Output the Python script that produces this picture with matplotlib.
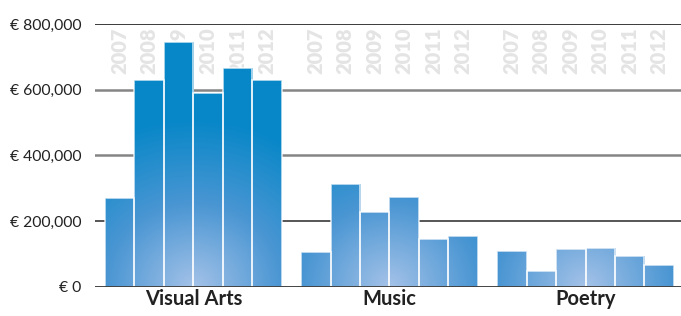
import numpy as np
import matplotlib.pyplot as plt
from matplotlib.colors import LinearSegmentedColormap

# data
categories = ["Visual Arts", "Music", "Poetry"]
years = ["2007", "2008", "2009", "2010", "2011", "2012"]
visual_arts = [270000, 630000, 745000, 590000, 666000, 630000]
music = [106000, 313000, 228000, 274000, 146000, 155000]
poetry = [110000, 49000, 116000, 119000, 94000, 67000]
y_ticks = [0, 200000, 400000, 600000, 800000]

series = [visual_arts, music, poetry]

plt.rcParams['font.family'] = ['Lato', 'DejaVu Sans']

fig = plt.figure(figsize=(6.81, 3.16), dpi=100)
ax = fig.add_axes([95 / 681, 1 - 287 / 316, 586 / 681, 263 / 316])

group_step = 6.655
xmin, xmax = -0.84, 19.05
ymax = 800000
ax.set_xlim(xmin, xmax)
ax.set_ylim(0, ymax)

px_x = 586 / (xmax - xmin)   # pixels per x unit
px_y = 263 / ymax            # pixels per value

# blue gradient, light at the bottom centre of each group
cmap = LinearSegmentedColormap.from_list("blues", ["#a4c2e8", "#4a96d3", "#0887c8"])

nx_, ny_ = 400, 200
gx = np.linspace(xmin, xmax, nx_)
gy = np.linspace(0, ymax, ny_)
XX, YY = np.meshgrid(gx, gy)

for g, vals in enumerate(series):
    x0 = g * group_step
    cx = x0 + 2.5
    d = np.sqrt(((XX - cx) * px_x) ** 2 + (YY * px_y * 1.05) ** 2)
    t = np.clip(d / 175, 0, 1)
    for i, v in enumerate(vals):
        bar = ax.bar(x0 + i, v, width=1.0, color="none", edgecolor="none", zorder=3)[0]
        im = ax.imshow(t, extent=[xmin, xmax, 0, ymax], origin="lower", cmap=cmap,
                       vmin=0, vmax=1, aspect="auto", zorder=3, interpolation="bilinear")
        im.set_clip_path(bar)
        ax.bar(x0 + i, v, width=1.0, fill=False, edgecolor=(1, 1, 1, 0.75),
               linewidth=1.2, zorder=4)
        # faint year labels behind bars
        ax.text(x0 + i, ymax - 11000, years[i], rotation=90, ha="center", va="top",
                fontsize=14.5, fontweight="heavy", color="#e4e4e4", zorder=1)
    ax.text(cx, -7000, categories[g], ha="center", va="top", fontsize=14.5,
            fontweight="bold", color="#222222")

# grid lines
grid_styles = {0: ("#333333", 2.0), 200000: ("#555555", 1.4), 400000: ("#858585", 1.8),
               600000: ("#858585", 1.8), 800000: ("#1a1a1a", 1.2)}
for yv in y_ticks:
    c, lw = grid_styles[yv]
    ax.axhline(yv, color=c, linewidth=lw, zorder=2 if yv > 0 else 5)

ax.set_yticks(y_ticks)
ax.set_yticklabels(["€ {:,}".format(v) for v in y_ticks], fontsize=11.3, color="#222222")
ax.tick_params(axis="y", length=0, pad=10)
ax.set_xticks([])
for s in ax.spines.values():
    s.set_visible(False)

fig.savefig("out.png", dpi=100)
